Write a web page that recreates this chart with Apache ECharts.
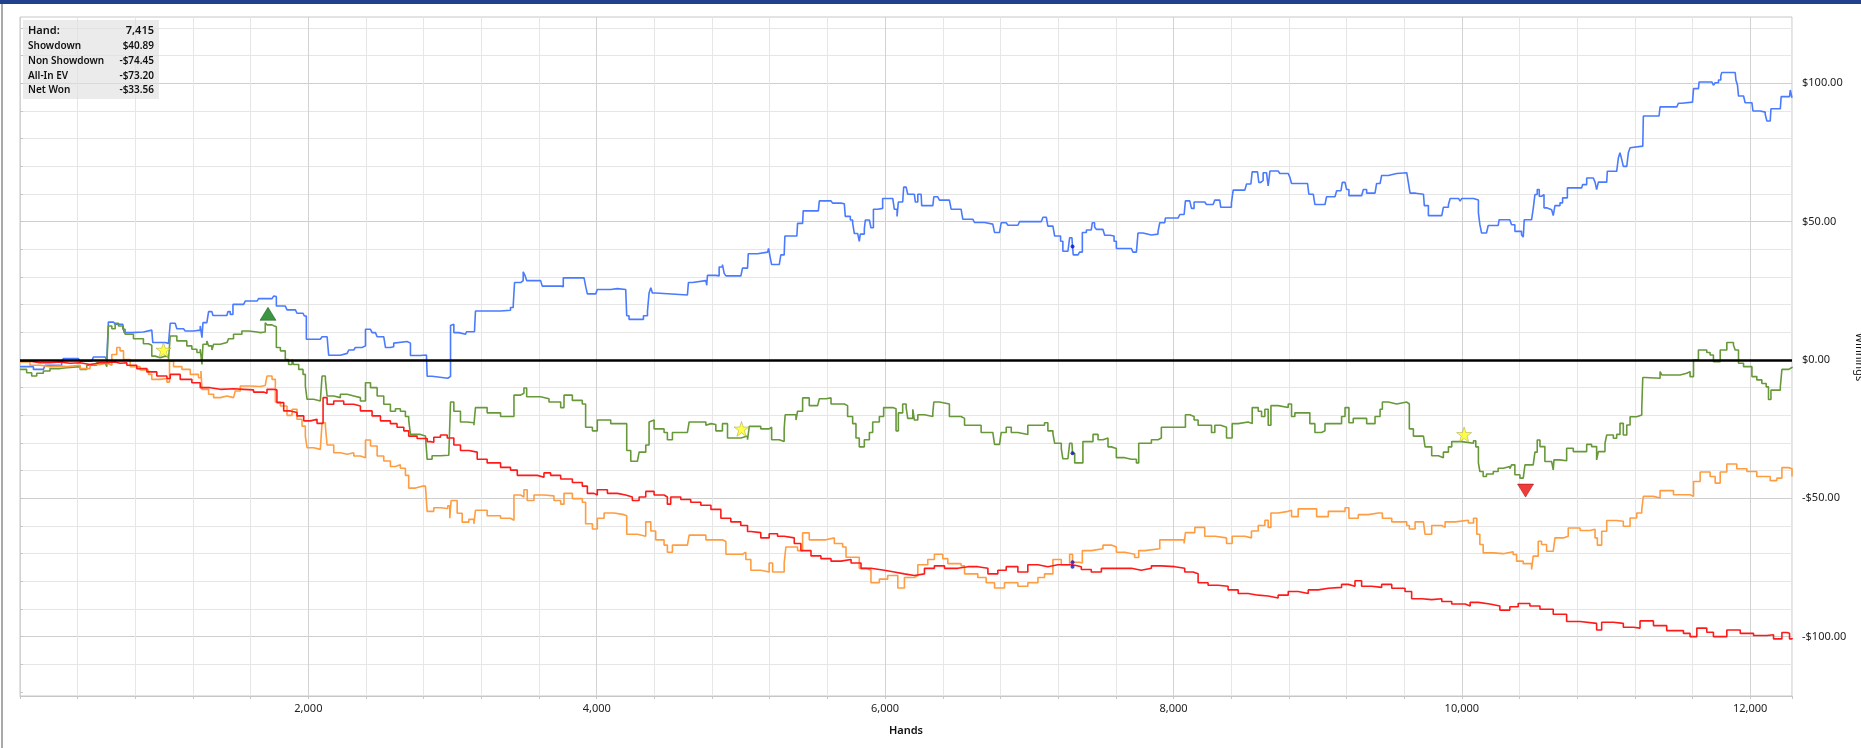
<!DOCTYPE html>
<html><head><meta charset="utf-8">
<script src="https://cdn.jsdelivr.net/npm/echarts@6.0.0/dist/echarts.min.js"></script>
<style>html,body{margin:0;padding:0;background:#fff}#c{width:1861px;height:748px}</style>
</head><body><div id="c"></div><script>
// [hand, winnings $]
const showdown = [[0,-2.4],[93,-3.4],[162,-3.1],[174,-1.9],[289,-1],[300,0.5],[405,0.5],[417,-0.4],[498,0],[509,1.1],[590,1.1],[602,0.2],[613,13.7],[648,13.5],[660,12.9],[713,12.9],[722,9.9],[775,9.6],[787,10.1],[856,10.1],[868,10.8],[914,10.8],[921,6.3],[1007,6.0],[1030,6.3],[1042,13.3],[1076,13.3],[1088,11.3],[1134,11.3],[1146,10.5],[1204,10.8],[1250,12.3],[1262,8.1],[1269,13.5],[1296,13.7],[1308,17.5],[1331,17.5],[1338,16.1],[1435,16.1],[1442,17.5],[1458,16.5],[1477,20.1],[1551,20.5],[1562,21.3],[1644,21.7],[1655,22.2],[1748,22.5],[1759,23.1],[1771,22.9],[1778,19.5],[1840,19.3],[1852,18.1],[1910,18.1],[1921,16.9],[1963,16.9],[1972,15.9],[1986,7.5],[2083,7.5],[2095,8.4],[2130,8.4],[2141,1.7],[2222,1.4],[2227,2.4],[2269,2.9],[2280,3.6],[2315,3.6],[2326,4.5],[2373,5.1],[2396,11.1],[2431,11.1],[2442,9.9],[2465,9.6],[2477,8.4],[2523,8.4],[2535,4.5],
[2569,4.8],[2592,6.1],[2604,6.7],[2685,6.7],[2696,6.1],[2708,1.6],[2777,1.3],[2789,1.8],[2819,1.6],[2824,-5.9],[2858,-6.6],[2967,-6.8],[2976,-5.9],[2986,12.5],[2997,12.9],[3009,9.9],[3044,9.3],[3090,9.3],[3097,10.2],[3152,10.2],[3159,17.7],[3333,18.0],[3402,19.0],[3421,19.9],[3430,28.0],[3472,28.7],[3490,31.9],[3502,30.6],[3514,28.7],[3611,28.4],[3622,26.7],[3754,26.5],[3768,29.7],[3782,30.2],[3791,29.7],[3912,29.7],[3923,26.7],[3935,23.9],[3993,24.2],[4004,25.5],[4097,25.8],[4143,25.5],[4201,25.5],[4208,16.0],[4224,14.7],[4282,14.2],[4294,14.7],[4324,16.0],[4352,17.7],[4363,24.2],[4375,26.1],[4386,24.2],[4409,23.5],[4629,23.5],[4636,28.0],[4664,28.7],[4757,28.9],[4763,27.0],[4768,30.6],[4826,31.3],[4838,30.4],[4849,33.6],[4872,34.5],[4884,31.3],[4896,30.4],[5000,30.6],[5011,33.2],[5046,33.6],[5051,38.4],
[5115,39.0],[5185,39.7],[5192,40.3],[5203,37.1],[5213,34.5],[5266,34.5],[5277,38.0],[5300,38.4],[5305,44.8],[5388,44.8],[5393,49.4],[5428,49.6],[5432,53.9],[5537,54.1],[5544,57.5],[5625,57.5],[5636,56.7],[5694,56.5],[5717,55.8],[5724,51.9],[5759,50.6],[5775,49.4],[5787,45.7],[5810,45.5],[5821,42.9],[5828,45.5],[5856,47.4],[5863,50.6],[5891,50.6],[5902,47.8],[5919,54.5],[5949,54.8],[5983,58.4],[6053,58.4],[6064,54.5],[6083,51.9],[6092,57.1],[6122,57.4],[6129,62.5],[6146,62.9],[6157,59.9],[6203,60.3],[6210,57.1],[6227,59.9],[6250,59.9],[6254,55.8],[6331,55.8],[6338,59.0],[6365,59.0],[6377,57.8],[6446,57.5],[6458,54.5],[6527,54.3],[6539,50.9],[6608,50.6],[6620,49.7],[6690,49.7],[6701,49.1],[6747,49.1],[6759,46.1],[6794,46.1],[6805,49.6],[6840,49.7],[6852,48.7],[6921,49.4],[6933,50.0],[7083,50.0],[7095,51.6],[7118,51.6],[7129,48.4],[7164,48.1],[7176,44.8],[7217,42.9],[7233,39.3],[7268,39.3],[7280,44.2],[7296,44.2],[7300,41.0],[7305,38.0],[7338,37.7],[7349,39.0],[7368,46.1],[7396,47.0],[7430,47.4],[7437,49.6],[7453,48.1],[7465,47.2],[7511,47.2],[7523,45.1],[7560,44.8],
[7588,42.9],[7604,40.3],[7708,40.1],[7719,39.0],[7743,39.0],[7754,45.9],[7789,45.9],[7801,45.2],[7847,45.5],[7893,46.5],[7905,49.6],[7939,50.0],[7944,51.3],[8032,51.6],[8044,52.6],[8074,52.8],[8083,57.5],[8113,57.5],[8125,54.8],[8143,57.1],[8217,57.1],[8229,56.2],[8275,56.5],[8287,57.8],[8321,57.8],[8328,55.2],[8368,55.2],[8402,56.7],[8414,61.4],[8495,61.6],[8507,63.6],[8537,64.2],[8546,68.0],[8583,68.0],[8592,64.2],[8606,64.9],[8622,67.7],[8645,67.7],[8657,62.9],[8669,68.3],[8726,68.5],[8738,67.4],[8796,67.2],[8807,66.1],[8819,63.8],[8930,63.8],[8939,59.9],[8970,59.4],[8981,56.2],[9051,56.2],[9062,59.0],[9120,59.0],[9132,61.2],[9162,61.2],[9171,64.2],[9190,64.2],[9201,61.6],[9217,59.4],[9305,59.4],[9317,61.6],[9340,60.3],[9398,60.3],[9409,63.8],[9433,64.2],[9444,66.7],[9490,66.8],[9502,67.4],[9548,67.7],[9618,67.7],[9629,64.2],[9641,60.3],[9680,59.9],[9734,60.3],[9740,55.8],[9768,52.2],[9861,52.2],[9872,55.2],[9907,56.1],[9919,58.4],[9977,58.7],[9988,57.4],[10000,58.4],[10081,58.7],[10092,57.8],[10115,53.2],
[10125,49.0],[10137,45.9],[10171,45.3],[10183,48.6],[10252,48.9],[10259,50.7],[10333,50.7],[10345,48.9],[10368,46.5],[10414,45.3],[10426,44.4],[10433,50.7],[10484,51.0],[10495,54.6],[10507,59.8],[10523,61.6],[10537,59.2],[10553,59.8],[10570,55.0],[10588,54.3],[10623,54.6],[10634,52.2],[10646,55.8],[10681,56.8],[10699,58.6],[10732,62.2],[10831,62.0],[10838,63.4],[10866,65.8],[10912,65.8],[10924,64.3],[10935,61.6],[10947,64.3],[11005,64.3],[11009,68.2],[11074,68.2],[11086,73.1],[11097,74.9],[11109,72.5],[11120,70.0],[11144,70.0],[11155,74.9],[11167,76.7],[11178,77.3],[11255,77.3],[11259,88.2],[11368,88.2],[11375,91.5],[11491,91.8],[11502,92.8],[11525,92.8],[11537,93.2],[11600,93.0],[11607,98.1],[11641,98.1],[11646,100.5],[11734,100.5],[11745,99.3],[11757,100.2],[11780,101.2],[11796,102.7],[11803,103.9],[11896,103.9],[11901,101.2],[11912,99.3],[11919,95.4],[11954,95.0],[11965,93.0],[12012,92.4],[12019,90.0],[12070,89.6],[12104,88.8],[12116,86.4],[12139,86.4],[12144,90.8],[12209,90.8],[12215,95.2],[12273,95.2],[12278,97.6],[12290,94.8]];

const netWon = [[0,-3.4],[46,-4.6],[81,-5.8],[116,-4.8],[162,-4.0],[208,-3.1],[278,-2.8],[324,-2.4],[417,-3.4],[463,-1.9],[532,-1.0],[590,-1.6],[602,-2.4],[613,12.3],[637,11.3],[660,13.3],[683,12.3],[713,11.1],[729,9.3],[787,7.7],[856,5.9],[891,5.3],[914,1.4],[938,0.8],[972,1.4],[1007,1.2],[1030,0.2],[1042,8.7],[1088,6.9],[1157,5.1],[1192,3.9],[1227,2.7],[1250,3.9],[1262,-1.6],[1269,5.7],[1296,6.9],[1308,5.1],[1331,3.6],[1343,5.7],[1389,6.3],[1435,6.5],[1447,7.7],[1481,9.3],[1505,9.3],[1539,10.5],[1586,10.1],[1644,9.9],[1667,10.1],[1701,13.5],[1713,12.7],[1748,12.3],[1764,12.0],[1778,4.5],[1806,3.3],[1840,0.2],[1863,-1.6],[1887,0.2],[1898,-1.6],[1933,-3.4],[1963,-5.2],[1979,-9.4],[1991,-14.2],[2037,-14.8],[2083,-14.2],[2095,-5.8],[2118,-7.0],[2130,-13.0],[2176,-13.6],[2222,-12.4],[2269,-13.0],[2315,-13.6],[2361,-14.8],[2396,-8.2],[2431,-10.0],[2477,-13.0],[2523,-16.0],
[2569,-18.5],[2604,-17.6],[2638,-18.5],[2673,-20.4],[2696,-21.7],[2708,-26.9],[2777,-27.5],[2812,-28.2],[2824,-35.9],[2858,-34.6],[2916,-34.4],[2974,-34.0],[2986,-15.2],[3009,-18.5],[3055,-22.4],[3101,-22.7],[3148,-23.6],[3159,-17.2],[3240,-19.1],[3333,-20.4],[3402,-20.4],[3426,-12.7],[3472,-12.0],[3495,-10.1],[3514,-13.3],[3611,-14.0],[3669,-15.2],[3750,-17.2],[3773,-12.7],[3831,-14.6],[3900,-15.9],[3923,-24.3],[3970,-25.6],[4004,-21.7],[4097,-23.0],[4189,-23.0],[4208,-32.7],[4236,-36.6],[4282,-36.6],[4294,-33.3],[4340,-30.7],[4363,-22.4],[4375,-21.7],[4398,-24.9],[4467,-26.2],[4490,-28.8],[4525,-26.2],[4629,-26.9],[4641,-22.4],[4757,-23.6],[4768,-23.0],[4792,-23.3],[4826,-25.6],[4872,-23.0],[4907,-28.2],[5000,-27.5],[5046,-28.8],[5058,-24.0],
[5138,-24.9],[5196,-24.3],[5213,-28.8],[5266,-29.5],[5300,-24.9],[5307,-19.8],[5382,-21.7],[5393,-18.5],[5428,-13.7],[5474,-16.5],[5532,-17.2],[5544,-14.0],[5590,-13.7],[5625,-15.9],[5717,-16.5],[5740,-20.4],[5775,-23.0],[5798,-28.2],[5821,-31.4],[5856,-28.8],[5891,-26.2],[5914,-22.4],[5960,-20.4],[5990,-17.2],[6053,-17.6],[6076,-25.6],[6092,-19.1],[6122,-15.9],[6146,-17.2],[6157,-21.1],[6192,-17.8],[6203,-21.7],[6227,-19.8],[6273,-20.4],[6331,-19.1],[6338,-15.2],[6377,-15.9],[6446,-20.4],[6527,-21.1],[6551,-23.6],[6597,-23.6],[6666,-26.2],[6747,-26.9],[6759,-30.5],[6794,-30.1],[6805,-26.2],[6840,-24.3],[6875,-26.2],[6921,-26.9],[6990,-23.6],[7083,-23.6],[7106,-22.7],[7129,-25.6],[7164,-26.6],[7176,-30.1],[7222,-32.0],[7233,-35.7],[7268,-35.3],[7280,-30.1],[7296,-30.1],[7300,-33.7],[7315,-37.2],[7349,-37.2],[7372,-29.5],[7442,-26.9],[7477,-28.8],[7511,-28.2],[7546,-31.4],
[7569,-32.0],[7604,-35.3],[7662,-35.9],[7708,-35.9],[7743,-37.2],[7759,-30.1],[7801,-30.1],[7847,-28.8],[7893,-28.2],[7916,-24.3],[8055,-24.3],[8083,-19.8],[8113,-20.4],[8143,-21.7],[8171,-23.6],[8264,-26.2],[8287,-23.6],[8328,-24.3],[8368,-28.2],[8407,-23.0],[8449,-22.4],[8518,-23.0],[8546,-17.2],[8588,-18.5],[8611,-20.4],[8634,-17.8],[8657,-23.6],[8676,-16.5],[8726,-17.2],[8796,-15.9],[8819,-20.4],[8842,-19.1],[8930,-19.1],[8946,-23.0],[8981,-26.2],[9027,-25.6],[9051,-23.0],[9120,-23.0],[9166,-20.4],[9190,-17.2],[9217,-22.7],[9247,-21.1],[9305,-21.1],[9340,-23.0],[9398,-20.4],[9433,-17.8],[9449,-15.2],[9490,-15.9],[9548,-15.2],[9618,-15.9],[9636,-24.9],[9664,-27.5],[9734,-26.9],[9745,-31.4],[9791,-34.6],[9838,-35.3],[9872,-33.3],[9907,-31.4],[9930,-29.5],[10000,-30.1],[10081,-29.2],[10097,-31.4],[10115,-37.2],
[10125,-40.3],[10148,-42.1],[10171,-41.2],[10218,-40.3],[10252,-39.1],[10287,-38.5],[10333,-39.3],[10345,-37.9],[10368,-41.5],[10403,-42.7],[10426,-43.3],[10438,-37.9],[10495,-37.3],[10507,-33.3],[10523,-28.9],[10542,-31.3],[10576,-36.7],[10623,-36.9],[10634,-39.7],[10639,-36.1],[10681,-36.4],[10727,-31.9],[10773,-33.1],[10820,-33.1],[10866,-30.5],[10900,-31.3],[10935,-36.1],[10947,-33.1],[10993,-30.1],[11005,-27.1],[11051,-28.3],[11074,-26.9],[11097,-22.9],[11120,-27.1],[11144,-23.5],[11167,-20.5],[11213,-19.9],[11248,-17.5],[11255,-6.3],[11271,-6.6],[11375,-4.2],[11387,-5.4],[11468,-5.4],[11514,-4.8],[11560,-4.2],[11583,-6.0],[11607,0.0],[11641,3.6],[11699,2.7],[11722,1.8],[11745,-0.6],[11792,3.6],[11838,6.3],[11884,5.4],[11896,3.6],[11919,-1.2],[11954,-2.4],[12012,-6.0],[12046,-7.2],[12081,-8.5],[12111,-9.7],[12127,-14.3],[12144,-10.9],[12209,-9.7],[12220,-3.4],[12267,-3.6],[12278,-2.7],[12290,-2.4]];

const nonShowdown = [[0,-0.4],[69,-1.0],[139,-1.0],[208,-0.7],[278,-1.2],[347,-1.0],[417,-1.6],[486,-1.0],[556,-1.0],[602,-0.7],[660,-1.2],[694,-1.0],[741,-1.9],[810,-3.1],[880,-4.3],[949,-5.8],[1019,-6.7],[1042,-5.2],[1111,-7.0],[1192,-8.2],[1250,-10.0],[1319,-10.6],[1389,-10.4],[1481,-10.6],[1551,-10.8],[1620,-11.6],[1690,-12.0],[1713,-10.6],[1759,-10.8],[1782,-15.4],[1829,-18.4],[1875,-19.0],[1921,-20.2],[1968,-22.0],[2014,-21.4],[2060,-22.9],[2102,-13.6],[2130,-16.0],[2176,-14.8],[2245,-16.0],[2315,-16.6],[2361,-18.4],[2407,-18.4],[2442,-20.2],[2500,-22.0],
[2569,-23.0],[2615,-24.3],[2662,-25.6],[2696,-27.5],[2754,-28.4],[2824,-29.5],[2847,-29.7],[2870,-27.9],[2916,-27.1],[2963,-28.2],[3009,-30.7],[3055,-32.7],[3113,-33.3],[3171,-35.9],[3240,-37.2],[3333,-38.8],[3402,-39.8],[3449,-41.7],[3518,-41.7],[3588,-42.4],[3634,-40.8],[3680,-41.7],[3750,-43.0],[3831,-44.3],[3900,-45.6],[3935,-48.2],[3981,-48.8],[4004,-46.9],[4074,-48.2],[4143,-48.8],[4201,-49.5],[4247,-50.8],[4294,-49.5],[4340,-47.5],[4398,-48.8],[4467,-49.5],[4490,-52.1],[4513,-49.5],[4583,-50.4],[4652,-51.4],[4722,-52.5],[4792,-54.0],[4861,-57.2],[4930,-58.5],[4999,-59.8],[5046,-62.0],
[5069,-62.4],[5138,-64.3],[5196,-62.8],[5254,-63.7],[5300,-64.3],[5370,-66.3],[5416,-68.9],[5486,-70.8],[5555,-71.8],[5625,-72.7],[5694,-72.1],[5764,-73.4],[5833,-75.3],[5902,-76.0],[5995,-76.6],[6064,-77.3],[6134,-77.9],[6203,-77.3],[6273,-75.3],[6342,-74.4],[6412,-75.3],[6504,-74.7],[6574,-74.7],[6643,-75.3],[6713,-77.3],[6782,-76.0],[6840,-74.7],[6921,-76.6],[6990,-74.0],[7060,-74.7],[7129,-74.0],[7199,-74.0],[7300,-74.7],[7361,-75.7],[7430,-76.6],[7500,-75.3],
[7569,-75.3],[7638,-75.3],[7708,-76.0],[7777,-75.3],[7847,-74.4],[7916,-74.7],[8009,-75.3],[8078,-76.6],[8136,-77.3],[8171,-80.5],[8240,-81.4],[8310,-81.8],[8379,-83.1],[8449,-84.4],[8518,-85.0],[8588,-85.3],[8657,-86.0],[8726,-85.0],[8796,-83.7],[8865,-84.4],[8935,-83.1],[9004,-82.5],[9074,-82.2],[9166,-81.1],[9213,-81.8],[9259,-79.8],[9305,-81.8],[9375,-82.2],[9444,-81.1],[9514,-82.5],[9606,-83.7],[9652,-86.3],[9722,-86.6],[9791,-86.3],[9861,-87.3],[9930,-88.2],[10023,-88.9],[10058,-87.6],[10115,-88.2],
[10194,-88.9],[10264,-90.4],[10333,-89.2],[10391,-88.0],[10472,-88.9],[10542,-90.1],[10634,-91.9],[10727,-94.5],[10820,-95.2],[10935,-97.6],[10970,-94.8],[11051,-95.2],[11120,-96.6],[11190,-96.9],[11236,-94.3],[11329,-96.0],[11421,-97.8],[11537,-98.8],[11583,-100.0],[11630,-96.9],[11699,-98.4],[11745,-100.0],[11838,-97.6],[11931,-98.8],[12023,-99.6],[12116,-99.3],[12162,-100.8],[12220,-98.5],[12255,-98.8],[12273,-100.8],[12290,-100.5]];

const allInEV = [[0,-0.7],[69,-1.9],[139,-2.4],[208,-2.2],[278,-2.4],[324,-1.9],[417,-3.1],[486,-1.6],[556,-1.2],[602,-1.9],[637,2.0],[671,4.5],[694,3.3],[718,0.2],[764,-2.4],[833,-3.6],[891,-5.2],[914,-7.0],[972,-6.7],[1019,-8.0],[1037,-0.4],[1065,-2.4],[1123,-3.4],[1181,-5.2],[1238,-6.4],[1255,-4.0],[1262,-10.6],[1308,-12.4],[1343,-13.6],[1389,-13.0],[1435,-13.6],[1481,-14.2],[1493,-11.2],[1528,-9.4],[1597,-9.6],[1667,-9.2],[1701,-9.4],[1713,-5.8],[1748,-7.0],[1771,-15.2],[1806,-16.6],[1852,-20.0],[1887,-17.8],[1921,-21.4],[1956,-23.9],[1979,-27.5],[1991,-31.7],[2037,-32.3],[2083,-31.7],[2095,-22.7],[2118,-23.9],[2130,-30.7],[2176,-33.5],[2222,-34.1],[2269,-33.5],[2315,-34.7],[2361,-35.3],[2396,-28.9],[2431,-31.1],[2477,-34.7],[2523,-36.5],
[2569,-38.5],[2604,-37.9],[2638,-39.1],[2673,-41.7],[2696,-46.3],[2743,-45.6],[2789,-45.6],[2812,-46.3],[2824,-54.7],[2870,-53.4],[2916,-53.7],[2967,-52.7],[2981,-57.2],[2990,-50.8],[3032,-55.4],[3067,-58.6],[3113,-57.6],[3148,-59.2],[3159,-54.3],[3240,-56.3],[3333,-57.2],[3402,-57.9],[3426,-48.8],[3472,-49.5],[3495,-46.9],[3518,-50.8],[3565,-48.8],[3634,-49.1],[3703,-50.8],[3750,-52.1],[3773,-48.2],[3831,-50.1],[3900,-51.4],[3923,-59.2],[3970,-61.1],[4004,-57.2],[4051,-55.3],[4120,-55.9],[4189,-56.3],[4208,-63.0],[4282,-63.7],[4340,-58.5],[4375,-61.8],[4409,-65.0],[4467,-66.9],[4490,-69.5],[4525,-66.9],[4629,-67.6],[4641,-63.3],[4757,-65.0],[4826,-65.0],[4872,-65.6],[4896,-70.2],[4953,-70.2],[5011,-69.5],[5034,-72.1],
[5069,-76.0],[5138,-76.6],[5196,-73.4],[5220,-76.6],[5266,-76.6],[5300,-73.4],[5312,-67.6],[5393,-68.9],[5428,-62.5],[5474,-65.0],[5532,-65.0],[5590,-64.3],[5648,-66.3],[5706,-67.6],[5729,-71.3],[5787,-71.3],[5821,-75.3],[5868,-76.0],[5902,-80.5],[5960,-79.2],[6018,-77.9],[6088,-82.4],[6134,-78.6],[6203,-77.9],[6227,-74.0],[6296,-72.1],[6342,-70.2],[6400,-71.8],[6435,-73.6],[6527,-74.4],[6551,-77.3],[6643,-78.6],[6701,-80.5],[6759,-82.4],[6828,-80.5],[6921,-81.8],[6990,-80.5],[7060,-78.6],[7106,-77.3],[7164,-72.1],[7222,-74.0],[7280,-70.2],[7300,-73.1],[7349,-73.4],[7368,-68.9],[7430,-68.2],[7511,-66.9],
[7569,-67.6],[7604,-69.5],[7662,-70.2],[7731,-71.4],[7759,-68.9],[7801,-68.2],[7905,-65.0],[8009,-65.0],[8074,-66.3],[8083,-62.4],[8148,-60.5],[8217,-63.7],[8287,-64.3],[8368,-66.3],[8407,-63.7],[8495,-64.3],[8541,-61.8],[8588,-59.8],[8634,-57.9],[8657,-60.5],[8676,-55.3],[8726,-54.7],[8796,-54.3],[8819,-56.6],[8865,-53.8],[8958,-53.8],[8993,-56.6],[9074,-54.7],[9190,-53.4],[9217,-57.2],[9282,-55.9],[9352,-55.3],[9421,-55.3],[9449,-57.2],[9514,-58.5],[9618,-59.8],[9636,-61.1],[9676,-58.5],[9734,-59.2],[9745,-63.0],[9791,-59.8],[9861,-60.5],[9884,-58.5],[9954,-57.9],[10046,-58.9],[10081,-57.2],[10104,-63.0],
[10125,-66.7],[10148,-69.7],[10218,-70.0],[10287,-69.3],[10356,-70.3],[10380,-72.7],[10426,-73.6],[10484,-75.7],[10495,-70.9],[10530,-65.5],[10553,-66.7],[10588,-69.1],[10634,-69.3],[10646,-64.3],[10704,-63.7],[10738,-60.7],[10820,-61.6],[10889,-61.2],[10924,-64.3],[10940,-66.9],[10970,-61.9],[11005,-58.0],[11074,-58.3],[11120,-60.1],[11167,-57.1],[11213,-55.3],[11248,-54.1],[11259,-49.3],[11329,-49.9],[11375,-47.2],[11468,-48.7],[11537,-48.7],[11583,-49.3],[11607,-43.9],[11653,-40.5],[11722,-42.1],[11757,-44.5],[11792,-40.5],[11838,-37.6],[11907,-39.3],[11977,-40.3],[12046,-42.1],[12139,-43.6],[12185,-42.7],[12220,-38.9],[12267,-39.3],[12290,-42.1]];

const starMarks = [[995,3.6],[5004,-24.9],[10016,-26.9]];
const upMarks = [[1720,16.7]];
const downMarks = [[10442,-47.2]];
const hoverDots = [[7300,41.0],[7300,-33.7],[7300,-73.1],[7300,-74.7]];
const infoRows = [['Hand:','7,415'],['Showdown','$40.89'],['Non Showdown','-$74.45'],['All-In EV','-$73.20'],['Net Won','-$33.56']];
const yAxisTitle = 'Winnings', xAxisTitle = 'Hands';
const handsMax = 12290, handStep = 400, handLabelStep = 2000;
const yMin = -120, yMax = 120, yStep = 10, yLabelStep = 50;

const FONT = 'Noto Sans';
const yGridColors = [];
for (let v = yMin; v <= yMax; v += yStep) yGridColors.push(v === yMin ? 'rgba(0,0,0,0)' : (v % yLabelStep === 0 ? '#cfcfcf' : '#e6e6e6'));
const xGridColors = ['#d2d2d2','#e6e6e6','#e6e6e6','#e6e6e6','#e6e6e6'];

function lineSeries(name, data, color, extra) {
  return Object.assign({ name, type:'line', data, xAxisIndex:0, yAxisIndex:0, showSymbol:false, step:'end',
    lineStyle:{ color, width:1.6 }, itemStyle:{ color }, silent:true, z:3 }, extra || {});
}
const starPath = 'path://M50,2 L61,36 L97,36 L68,57 L79,92 L50,71 L21,92 L32,57 L3,36 L39,36 Z';

const rowY = [31, 46, 61, 76, 90.5];
const graphics = [
  { type:'rect', shape:{x:0,y:0,width:1861,height:4}, style:{fill:'#21418c'}, silent:true },
  { type:'rect', shape:{x:1,y:4,width:2,height:744}, style:{fill:'#a9a9a9'}, silent:true },
  { type:'rect', shape:{x:23,y:20,width:136,height:79}, style:{fill:'rgba(222,222,222,0.62)'}, silent:true, z:10 },
  { type:'text', x:1859, y:357, rotation:-Math.PI/2, silent:true, z:11,
    style:{ text:yAxisTitle, font:`11px "${FONT}"`, fill:'#111', align:'center', verticalAlign:'middle' } }
];
infoRows.forEach((r, i) => {
  const fs = i === 0 ? 11 : 10;
  graphics.push({ type:'text', x:28, y:rowY[i], z:11, silent:true, style:{ text:r[0], font:`600 ${fs}px "${FONT}"`, fill:'#111', align:'left', verticalAlign:'middle' } });
  graphics.push({ type:'text', x:154, y:rowY[i], z:11, silent:true, style:{ text:r[1], font:`600 ${fs}px "${FONT}"`, fill:'#111', align:'right', verticalAlign:'middle' } });
});

const chart = echarts.init(document.getElementById('c'));
chart.setOption({
  animation:false,
  backgroundColor:'#ffffff',
  textStyle:{ fontFamily:FONT },
  grid:[
    { left:20, right:69, top:28, bottom:56, show:false, containLabel:false, outerBoundsMode:'none' },
    { left:20, right:69, top:17, bottom:52, show:true, containLabel:false, outerBoundsMode:'none',
      borderColor:'#c6c6c6', borderWidth:1, backgroundColor:'rgba(0,0,0,0)' }
  ],
  xAxis:[
    { gridIndex:0, type:'value', min:0, max:handsMax, show:false },
    { gridIndex:1, type:'value', min:0, max:handsMax, interval:handStep,
      name:xAxisTitle, nameLocation:'middle', nameGap:29,
      nameTextStyle:{ fontFamily:FONT, fontSize:11, fontWeight:600, color:'#111' },
      axisLine:{ show:true, lineStyle:{ color:'#c6c6c6', width:1 } },
      axisTick:{ show:true, length:3, lineStyle:{ color:'#c6c6c6' } },
      axisLabel:{ margin:7, fontSize:11, color:'#222', fontFamily:FONT,
        formatter:v => (v > 0 && v % handLabelStep === 0) ? v.toLocaleString('en-US') : '' },
      splitLine:{ show:true, lineStyle:{ color:xGridColors, width:1 } } }
  ],
  yAxis:[
    { gridIndex:0, type:'value', position:'right', min:yMin, max:yMax, interval:yStep,
      axisLine:{ show:false },
      axisTick:{ show:true, length:3, inside:false, lineStyle:{ color:'#c6c6c6' } },
      axisLabel:{ margin:10, fontSize:11, color:'#222', fontFamily:FONT,
        formatter:v => (v % yLabelStep === 0) ? ((v < 0 ? '-' : '') + '$' + Math.abs(v).toFixed(2)) : '' },
      splitLine:{ show:true, lineStyle:{ color:yGridColors, width:1 } } },
    { gridIndex:1, type:'value', min:0, max:1, show:false }
  ],
  series:[
    lineSeries('Showdown', showdown, '#4a7bff', {
      markLine:{ silent:true, symbol:'none', label:{show:false}, animation:false,
        lineStyle:{ color:'#000', width:2.5, type:'solid' }, data:[{ yAxis:0 }] } }),
    lineSeries('Net Won', netWon, '#67993a'),
    lineSeries('All-In EV', allInEV, '#ff9d42'),
    lineSeries('Non Showdown', nonShowdown, '#ff1a1a'),
    { type:'scatter', data:starMarks, symbol:starPath, symbolSize:15, z:6, silent:true,
      itemStyle:{ color:'#ffff1a', borderColor:'#9c9c40', borderWidth:0.6 } },
    { type:'scatter', data:upMarks, symbol:'triangle', symbolSize:[16,13], z:6, silent:true,
      itemStyle:{ color:'#0d7a12', borderColor:'#0a4f0a', borderWidth:0.6 } },
    { type:'scatter', data:downMarks, symbol:'triangle', symbolRotate:180, symbolSize:[16,13], z:6, silent:true,
      itemStyle:{ color:'#ee0b0b', borderColor:'#8a0000', borderWidth:0.6 } },
    { type:'scatter', data:hoverDots, symbol:'circle', symbolSize:4, z:6, silent:true,
      itemStyle:{ color:'#1010d0' } }
  ],
  graphic:graphics
});
</script></body></html>
